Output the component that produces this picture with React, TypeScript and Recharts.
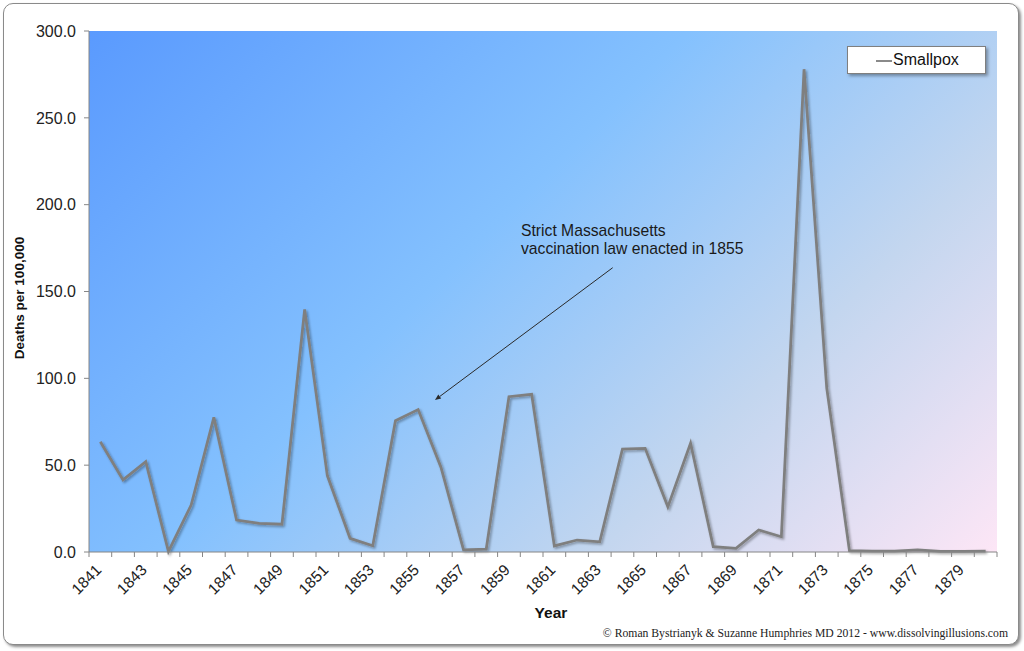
import React from 'react';
import { LineChart, Line, XAxis, YAxis, CartesianGrid, ReferenceLine, Legend } from 'recharts';

const years = [
  1841, 1842, 1843, 1844, 1845, 1846, 1847, 1848, 1849, 1850,
  1851, 1852, 1853, 1854, 1855, 1856, 1857, 1858, 1859, 1860,
  1861, 1862, 1863, 1864, 1865, 1866, 1867, 1868, 1869, 1870,
  1871, 1872, 1873, 1874, 1875, 1876, 1877, 1878, 1879, 1880,
];

const smallpox = [
  63.5, 41.5, 52.0, 0.3, 27.0, 77.5, 18.4, 16.5, 16.0, 139.7,
  44.0, 7.9, 3.6, 75.6, 82.0, 49.0, 1.2, 1.7, 89.4, 90.8,
  3.5, 6.9, 5.9, 59.3, 59.7, 26.0, 62.6, 3.1, 2.1, 12.7,
  8.8, 278.0, 94.4, 0.8, 0.5, 0.5, 1.2, 0.3, 0.3, 0.5,
];

const yTicks = [0, 50, 100, 150, 200, 250, 300];
const xLabelYears = [
  1841, 1843, 1845, 1847, 1849, 1851, 1853, 1855, 1857, 1859,
  1861, 1863, 1865, 1867, 1869, 1871, 1873, 1875, 1877, 1879,
];

const seriesName = 'Smallpox';
const yTitle = 'Deaths per 100,000';
const xTitle = 'Year';
const annotationLines = ['Strict Massachusetts', 'vaccination law enacted in 1855'];
const footer = '\u00A9 Roman Bystrianyk & Suzanne Humphries MD 2012 - www.dissolvingillusions.com';
const arrowFrom = { x: 1863.57, y: 163.7 };
const arrowTo = { x: 1855.74, y: 87.5 };

const data = years.map((year, i) => ({ year, smallpox: smallpox[i] }));
const boundaries = [...years.map((y) => y - 0.5), years[years.length - 1] + 0.5];
const xTicks = [...boundaries, ...xLabelYears].sort((a, b) => a - b);

const SANS = '"Liberation Sans", Arial, sans-serif';
const AXIS = '#868686';

const XTick = (props: any) => {
  const { x, y, payload } = props;
  const v = payload.value as number;
  if (!Number.isInteger(v)) {
    return <line x1={x} y1={y - 5} x2={x} y2={y} stroke={AXIS} strokeWidth={1} />;
  }
  const tx = x + 2;
  const ty = y + 14;
  return (
    <text
      x={tx}
      y={ty}
      transform={`rotate(-45 ${tx} ${ty})`}
      textAnchor="end"
      fontFamily={SANS}
      fontSize={15.5}
      fill="#222"
    >
      {v}
    </text>
  );
};

const ArrowShape = (props: any) => {
  const { x1, y1, x2, y2 } = props;
  const ang = Math.atan2(y2 - y1, x2 - x1);
  const L = 6;
  const W = 2.4;
  const bx = x2 - L * Math.cos(ang);
  const by = y2 - L * Math.sin(ang);
  const px = -Math.sin(ang) * W;
  const py = Math.cos(ang) * W;
  return (
    <g>
      <line x1={x1} y1={y1} x2={bx} y2={by} stroke="#2a2a2a" strokeWidth={1} />
      <polygon points={`${x2},${y2} ${bx + px},${by + py} ${bx - px},${by - py}`} fill="#2a2a2a" />
    </g>
  );
};

const LegendBox = () => (
  <div
    style={{
      position: 'relative',
      width: 139,
      height: 28,
      boxSizing: 'border-box',
      background: '#fff',
      border: '1px solid #7f7f7f',
      boxShadow: '2px 2px 3px rgba(0,0,0,0.35)',
      fontFamily: SANS,
      fontSize: 16,
      color: '#111',
    }}
  >
    <div style={{ position: 'absolute', left: 28, top: 13, width: 16, height: 1.5, background: '#8a8a8a' }} />
    <div style={{ position: 'absolute', left: 45, top: 4, lineHeight: '18px', whiteSpace: 'nowrap' }}>{seriesName}</div>
  </div>
);

export default function App() {
  return (
    <div style={{ position: 'absolute', left: 0, top: 0, width: 1024, height: 651, background: '#fff', overflow: 'hidden' }}>
      <div
        style={{
          position: 'absolute',
          left: 3,
          top: 3,
          width: 1014,
          height: 640,
          border: '1px solid #8a8a8a',
          borderRadius: 10,
          boxShadow: '2px 2px 3px rgba(0,0,0,0.45)',
          background: '#fff',
        }}
      />
      <div style={{ position: 'absolute', left: 0, top: 0 }}>
        <LineChart width={1024} height={651} data={data} margin={{ top: 31, right: 27, bottom: 69, left: 0 }}>
          <defs>
            <linearGradient id="plotBg" gradientUnits="userSpaceOnUse" x1={89} y1={31} x2={803.5} y2={745.5}>
              <stop offset="0%" stopColor="#5a9afe" />
              <stop offset="42%" stopColor="#84c1fe" />
              <stop offset="72%" stopColor="#c3d6ef" />
              <stop offset="100%" stopColor="#fde6f6" />
            </linearGradient>
            <filter id="lineShadow" x="-5%" y="-5%" width="110%" height="110%">
              <feDropShadow dx="1.5" dy="1.5" stdDeviation="1.2" floodColor="#000" floodOpacity="0.35" />
            </filter>
          </defs>
          <CartesianGrid horizontal={false} vertical={false} fill="url(#plotBg)" stroke="none" />
          <XAxis
            dataKey="year"
            type="number"
            domain={[1840.5, 1880.5]}
            ticks={xTicks}
            interval={0}
            height={30}
            tickSize={5}
            tickMargin={0}
            tickLine={false}
            axisLine={{ stroke: AXIS }}
            tick={<XTick />}
            allowDataOverflow
          />
          <YAxis
            type="number"
            domain={[0, 300]}
            ticks={yTicks}
            interval={0}
            width={89}
            tickSize={5}
            tickMargin={8}
            tickLine={{ stroke: AXIS }}
            axisLine={{ stroke: AXIS }}
            tickFormatter={(v: number) => v.toFixed(1)}
            tick={{ fontFamily: SANS, fontSize: 16, fill: '#222' }}
          />
          <ReferenceLine
            segment={[arrowFrom, arrowTo]}
            shape={<ArrowShape />}
            ifOverflow="visible"
          />
          <Line
            type="linear"
            dataKey="smallpox"
            name={seriesName}
            stroke="#7f7f7f"
            strokeWidth={2.75}
            dot={false}
            activeDot={false}
            filter="url(#lineShadow)"
            isAnimationActive={false}
          />
          <Legend
            layout="horizontal"
            verticalAlign="middle"
            align="center"
            wrapperStyle={{ left: 847, top: 46, width: 139, height: 28 }}
            content={<LegendBox />}
          />
        </LineChart>
      </div>
      <div
        style={{
          position: 'absolute',
          left: 19,
          top: 298,
          transform: 'translate(-50%, -50%) rotate(-90deg)',
          whiteSpace: 'nowrap',
          fontFamily: SANS,
          fontWeight: 'bold',
          fontSize: 13.5,
          color: '#111',
        }}
      >
        {yTitle}
      </div>
      <div
        style={{
          position: 'absolute',
          left: 551,
          top: 613,
          transform: 'translate(-50%, -50%)',
          whiteSpace: 'nowrap',
          fontFamily: SANS,
          fontWeight: 'bold',
          fontSize: 15.5,
          color: '#111',
        }}
      >
        {xTitle}
      </div>
      <div
        style={{
          position: 'absolute',
          left: 521,
          top: 222,
          fontFamily: SANS,
          fontSize: 15.7,
          lineHeight: '18px',
          color: '#1a1a1a',
          whiteSpace: 'nowrap',
        }}
      >
        {annotationLines.map((l) => (
          <div key={l}>{l}</div>
        ))}
      </div>
      <div
        style={{
          position: 'absolute',
          right: 1024 - 1008,
          top: 633,
          transform: 'translateY(-50%)',
          fontFamily: '"Liberation Serif", "DejaVu Serif", serif',
          fontSize: 11.7,
          color: '#222',
          whiteSpace: 'nowrap',
        }}
      >
        {footer}
      </div>
    </div>
  );
}
